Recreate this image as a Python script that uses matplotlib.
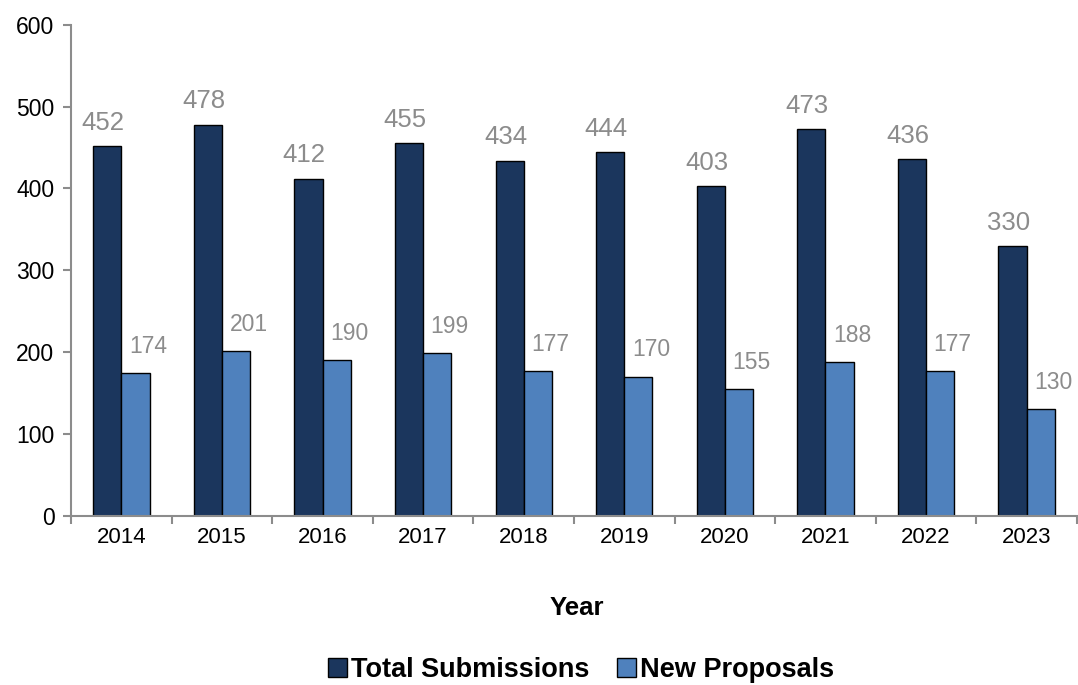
import numpy as np
import matplotlib
matplotlib.use("Agg")
import matplotlib.pyplot as plt
from matplotlib.patches import Patch

# chart data
years = ["2014", "2015", "2016", "2017", "2018", "2019", "2020", "2021", "2022", "2023"]
total_submissions = [452, 478, 412, 455, 434, 444, 403, 473, 436, 330]
new_proposals = [174, 201, 190, 199, 177, 170, 155, 188, 177, 130]

dark = "#1b365d"
light = "#4f81bd"
grey = "#8c8c8c"

plt.rcParams["font.family"] = ["Liberation Sans", "DejaVu Sans"]

fig = plt.figure(figsize=(10.78, 6.85), dpi=100)
ax = fig.add_axes([0.066, 0.247, 0.933, 0.717])

x = np.arange(len(years))
w = 0.28
ax.bar(x - w / 2, total_submissions, w, color=dark, edgecolor="black", linewidth=1)
ax.bar(x + w / 2, new_proposals, w, color=light, edgecolor="black", linewidth=1)

# value labels
for i in range(len(years)):
    ax.annotate(str(total_submissions[i]), (x[i] - w / 2, total_submissions[i]),
                xytext=(-3, 8), textcoords="offset points", ha="center", va="bottom",
                fontsize=18.5, color=grey)
    ax.annotate(str(new_proposals[i]), (x[i] + w / 2, new_proposals[i]),
                xytext=(9, 11), textcoords="offset points", ha="center", va="bottom",
                fontsize=16.5, color=grey)

ax.set_xlim(-0.5, len(years) - 0.5)
ax.set_ylim(0, 600)
ax.set_yticks(range(0, 601, 100))
ax.set_xticks(x)
ax.set_xticklabels(years)
ax.set_xticks(np.arange(-0.5, len(years), 1.0), minor=True)
ax.tick_params(axis="x", which="major", length=0, labelsize=16, pad=8)
ax.tick_params(axis="x", which="minor", length=6, color=grey, width=1.5)
ax.tick_params(axis="y", length=6, color=grey, width=1.5, labelsize=16.5, pad=6)

for s in ["top", "right"]:
    ax.spines[s].set_visible(False)
for s in ["left", "bottom"]:
    ax.spines[s].set_color(grey)
    ax.spines[s].set_linewidth(1.5)

fig.text(0.535, 0.113, "Year", ha="center", va="center", fontsize=18.5, fontweight="bold")

handles = [Patch(facecolor=dark, edgecolor="black", label="Total Submissions"),
           Patch(facecolor=light, edgecolor="black", label="New Proposals")]
fig.legend(handles=handles, loc="center", bbox_to_anchor=(0.539, 0.022), ncol=2,
           frameon=False, prop={"size": 19.5, "weight": "bold"},
           handlelength=0.7, handleheight=0.7, handletextpad=0.15, columnspacing=1.0)

fig.savefig("out.png", dpi=100)
